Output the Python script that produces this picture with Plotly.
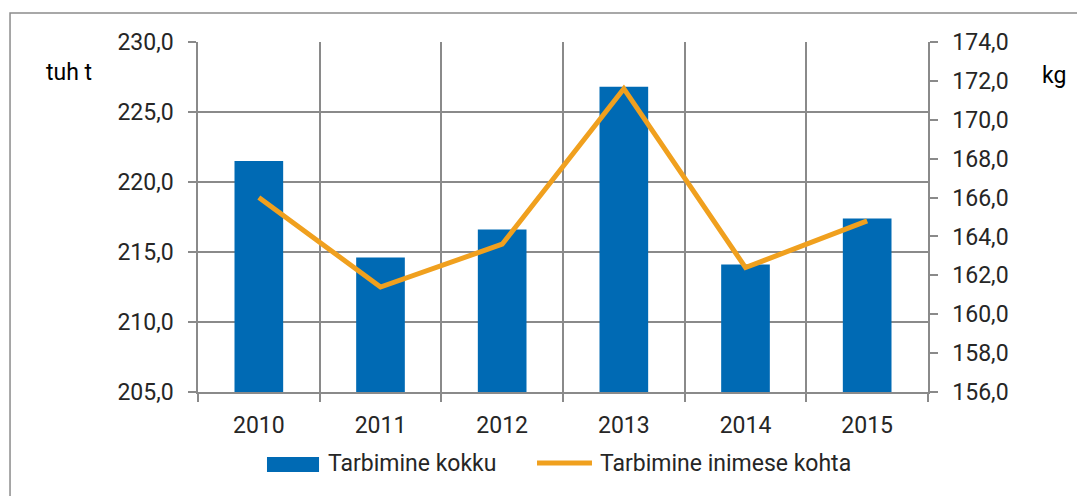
import plotly.graph_objects as go

years = ["2010", "2011", "2012", "2013", "2014", "2015"]
total = [221.5, 214.6, 216.6, 226.8, 214.1, 217.4]
per_capita = [166.0, 161.4, 163.6, 171.6, 162.4, 164.8]
name_total = "Tarbimine kokku"
name_pc = "Tarbimine inimese kohta"
left_title = "tuh t"
right_title = "kg"

BLUE = "#006AB4"
ORANGE = "#F0A01E"
DARK = "#8A8A8A"
LIGHT = "#C4C4C4"
TXT = "#262626"
FONT = "Roboto"
FS = 23

fig = go.Figure()
fig.add_trace(go.Bar(x=years, y=total, name=name_total, marker=dict(color=BLUE, line=dict(width=0)),
                     yaxis="y", showlegend=False))
fig.add_trace(go.Scatter(x=years, y=per_capita, name=name_pc, mode="lines",
                         line=dict(color=ORANGE, width=5), yaxis="y2", showlegend=False))

shapes = []
# light gridlines at category centers
for yr in years:
    shapes.append(dict(type="line", xref="x", yref="paper", x0=yr, x1=yr, y0=0, y1=1,
                       line=dict(color=LIGHT, width=1.5), layer="below"))
# outer border
shapes.append(dict(type="rect", xref="paper", yref="paper", x0=-0.2575, x1=1.25, y0=-0.33, y1=1.0829,
                   line=dict(color="#8C8C8C", width=1.5), fillcolor="rgba(0,0,0,0)", layer="below"))
# custom legend
shapes.append(dict(type="rect", xref="paper", yref="paper", x0=0.0945, x1=0.1658, y0=-0.2286, y1=-0.1857,
                   line=dict(width=0), fillcolor=BLUE))
shapes.append(dict(type="line", xref="paper", yref="paper", x0=0.4644, x1=0.5397, y0=-0.2029, y1=-0.2029,
                   line=dict(color=ORANGE, width=5)))

annotations = [
    dict(text=name_total, xref="paper", yref="paper", x=0.1753, y=-0.2029, xanchor="left", yanchor="middle",
         showarrow=False, font=dict(family=FONT, size=FS, color=TXT)),
    dict(text=name_pc, xref="paper", yref="paper", x=0.5479, y=-0.2029, xanchor="left", yanchor="middle",
         showarrow=False, font=dict(family=FONT, size=FS, color=TXT)),
    dict(text=left_title, xref="paper", yref="paper", x=(44 - 198) / 730, y=(392 - 73) / 350,
         xanchor="left", yanchor="middle", showarrow=False, font=dict(family=FONT, size=FS, color="#000")),
    dict(text=right_title, xref="paper", yref="paper", x=(1040 - 198) / 730, y=(392 - 75) / 350,
         xanchor="left", yanchor="middle", showarrow=False, font=dict(family=FONT, size=FS, color="#000")),
]

fig.update_layout(
    width=1085, height=496,
    margin=dict(l=190, r=165, t=34, b=112),
    paper_bgcolor="white", plot_bgcolor="white",
    separators=", ",
    bargap=0.6,
    font=dict(family=FONT, size=FS, color=TXT),
    xaxis=dict(type="category", tickson="boundaries", showgrid=True, gridcolor=DARK, gridwidth=1.5,
               ticks="outside", ticklen=8, tickcolor=DARK, tickwidth=1.5,
               showline=True, linecolor=DARK, linewidth=1.5,
               tickfont=dict(family=FONT, size=FS, color=TXT), range=[-0.5, 5.5],
               ticklabelstandoff=12),
    yaxis=dict(range=[205, 230], tick0=205, dtick=5, tickformat=".1f", showgrid=True, gridcolor=DARK,
               gridwidth=1.5, ticks="outside", ticklen=8, tickcolor=DARK, tickwidth=1.5,
               showline=True, linecolor=DARK, linewidth=1.5, zeroline=False,
               tickfont=dict(family=FONT, size=FS, color=TXT), ticklabelstandoff=10),
    yaxis2=dict(range=[156, 174], tick0=156, dtick=2, tickformat=".1f", overlaying="y", side="right",
                showgrid=False, ticks="outside", ticklen=8, tickcolor=DARK, tickwidth=1.5,
                showline=True, linecolor=DARK, linewidth=1.5, zeroline=False,
                tickfont=dict(family=FONT, size=FS, color=TXT), ticklabelstandoff=10),
    shapes=shapes,
    annotations=annotations,
    showlegend=False,
)

fig.write_html("out.html")
